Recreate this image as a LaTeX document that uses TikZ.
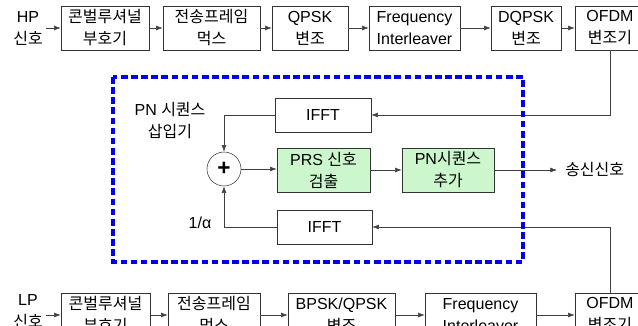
\documentclass[tikz,border=0pt]{standalone}
\usepackage{fontspec}
\setmainfont{Liberation Sans}
\newfontfamily\kr{Noto Sans CJK KR}
\usepackage{tikz}
\usetikzlibrary{arrows.meta, positioning}
\definecolor{prsgreen}{RGB}{204,247,204}
\definecolor{pnblue}{RGB}{0,0,238}
\tikzstyle{blk} = [rectangle, draw=black!80, minimum height=33pt, inner sep=0pt, align=center, font=\fontsize{12}{16.5}\selectfont]
\tikzstyle{greenblk} = [blk, fill=prsgreen]
\tikzstyle{lbl} = [align=center, inner sep=0pt, font=\fontsize{12}{16.5}\selectfont]
\tikzstyle{arrow} = [draw=black!75, -{Latex[length=5pt,width=3.6pt]}]
\tikzstyle{sumNode} = [circle, draw=black!80, minimum size=25.5pt, inner sep=0pt, font=\bfseries\fontsize{17}{17}\selectfont]
\tikzstyle{inserter} = [draw=pnblue, line width=2.3pt, dash pattern=on 5pt off 2.6pt]

\begin{document}
\begin{tikzpicture}[x=0.75pt, y=-0.75pt]
\useasboundingbox (0,0) rectangle (638,325);
% HP branch
\node (hp) [lbl] at (28,28) {HP\\{\kr 신호}};
\node (hp1) [blk, minimum width=66pt] at (105,28) {{\kr 콘벌루셔널}\\{\kr 부호기}};
\node (hp2) [blk, minimum width=72.75pt] at (211.5,28) {{\kr 전송프레임}\\{\kr 먹스}};
\node (hp3) [blk, minimum width=57pt] at (310,28) {QPSK\\{\kr 변조}};
\node (hp4) [blk, minimum width=68.25pt] at (414.5,28) {Frequency\\Interleaver};
\node (hp5) [blk, minimum width=52.5pt] at (526,28) {DQPSK\\{\kr 변조}};
\node (hp6) [blk, minimum width=52.5pt] at (610,28) {OFDM\\{\kr 변조기}};
\draw [arrow, shorten <=2pt] (hp.east) -- (hp1.west);
\draw [arrow] (hp1) -- (hp2);
\draw [arrow] (hp2) -- (hp3);
\draw [arrow] (hp3) -- (hp4);
\draw [arrow] (hp4) -- (hp5);
\draw [arrow] (hp5) -- (hp6);

% LP branch
\node (lp) [lbl] at (28,311) {LP\\{\kr 신호}};
\node (lp1) [blk, minimum width=66.75pt] at (105.5,315) {{\kr 콘벌루셔널}\\{\kr 부호기}};
\node (lp2) [blk, minimum width=69pt] at (214,315) {{\kr 전송프레임}\\{\kr 먹스}};
\node (lp3) [blk, minimum width=80.25pt] at (341.5,315) {BPSK/QPSK\\{\kr 변조}};
\node (lp4) [blk, minimum width=83.25pt] at (480.5,315) {Frequency\\Interleaver};
\node (lp5) [blk, minimum width=52.5pt] at (610,315) {OFDM\\{\kr 변조기}};
\draw [arrow, shorten <=2pt] (lp1.west -| lp.east) -- (lp1.west);
\draw [arrow] (lp1) -- (lp2);
\draw [arrow] (lp2) -- (lp3);
\draw [arrow] (lp3) -- (lp4);
\draw [arrow] (lp4) -- (lp5);

% PN sequence inserter
\node (title) [lbl] at (170,121) {PN {\kr 시퀀스}\\{\kr 삽입기}};
\node (ifft1) [blk, minimum width=72pt, minimum height=25.5pt] at (323,115) {IFFT};
\node (ifft2) [blk, minimum width=71.25pt, minimum height=25.5pt] at (324.5,227) {IFFT};
\node (sum) [sumNode] at (224,169) {+};
\node (prs) [greenblk, minimum width=69.75pt] at (323.5,170) {PRS {\kr 신호}\\{\kr 검출}};
\node (pnadd) [greenblk, minimum width=69pt] at (448,170) {PN{\kr 시퀀스}\\{\kr 추가}};
\node (out) [lbl, anchor=west, inner xsep=6pt] at (557,169) {\kr 송신신호};
\node (alpha) [lbl] at (200,223) {1/α};

\draw [arrow] (hp6.south) |- (ifft1.east);
\draw [arrow] (lp5.north) |- (ifft2.east);
\draw [arrow] (ifft1.west) -| (sum.north);
\draw [arrow] (ifft2.west) -| (sum.south);
\draw [arrow] (sum.east) -- (sum.east -| prs.west);
\draw [arrow] (prs) -- (pnadd);
\draw [arrow] (pnadd.east) -- (pnadd.east -| out.west);

\draw [inserter] (113,77) rectangle (523,262);
\end{tikzpicture}
\end{document}
